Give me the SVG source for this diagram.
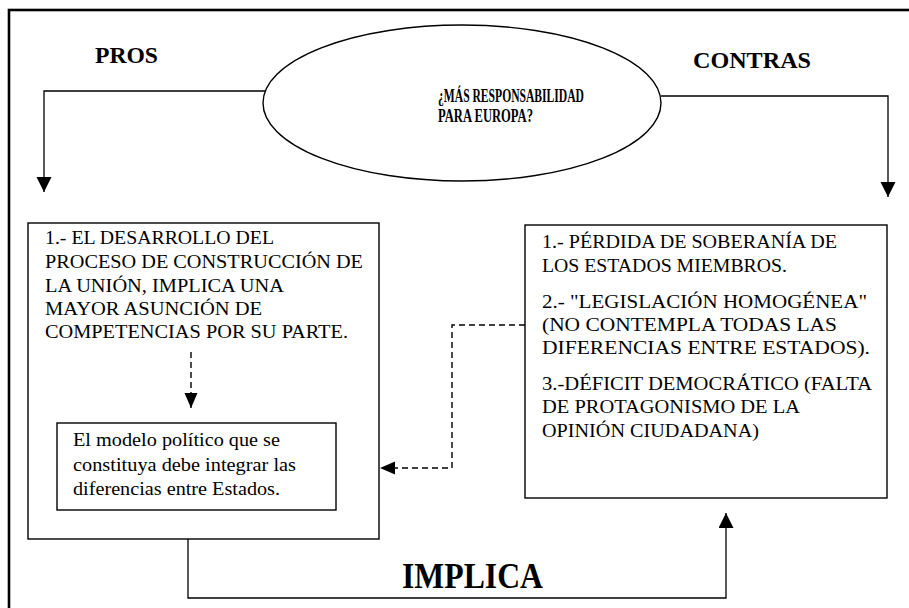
<svg xmlns="http://www.w3.org/2000/svg" width="909" height="608" viewBox="0 0 909 608">
<defs>
<style>
.bx{fill:#fff;stroke:#000;stroke-width:1.4}
.ln{fill:none;stroke:#000;stroke-width:1.3}
.dash{fill:none;stroke:#000;stroke-width:1.4;stroke-dasharray:6 4}
.t{font-family:"Liberation Serif","Times New Roman",serif;font-size:18.5px;fill:#000}
.b{font-family:"Liberation Serif","Times New Roman",serif;font-weight:bold;fill:#000}
</style>
<marker id="ah" markerUnits="userSpaceOnUse" markerWidth="16" markerHeight="16" refX="15" refY="7.5" orient="auto">
<path d="M0,0 L15,7.5 L0,15 z" fill="#000"/>
</marker>
<marker id="ahs" markerUnits="userSpaceOnUse" markerWidth="16" markerHeight="14" refX="15" refY="6.5" orient="auto">
<path d="M0,0 L15,6.5 L0,13 z" fill="#000"/>
</marker>
</defs>
<rect x="9" y="10" width="910" height="610" fill="#fff" stroke="#000" stroke-width="2.6"/>
<g id="pros-label"><text class="b" x="95" y="63" font-size="23" textLength="63" lengthAdjust="spacingAndGlyphs">PROS</text></g>
<g id="contras-label"><text class="b" x="693" y="68" font-size="23" textLength="118" lengthAdjust="spacingAndGlyphs">CONTRAS</text></g>
<g id="question">
<ellipse cx="462" cy="103" rx="199" ry="78" class="bx"/>
<text class="b" x="438" y="102" font-size="18" textLength="146" lengthAdjust="spacingAndGlyphs">¿MÁS RESPONSABILIDAD</text>
<text class="b" x="438" y="122" font-size="18" textLength="95" lengthAdjust="spacingAndGlyphs">PARA EUROPA?</text>
</g>
<g id="pros-box">
<rect x="28" y="223" width="351" height="316" class="bx"/>
<text class="t" x="45" y="244" textLength="229" lengthAdjust="spacingAndGlyphs">1.- EL DESARROLLO DEL</text>
<text class="t" x="45" y="268" textLength="318" lengthAdjust="spacingAndGlyphs">PROCESO DE CONSTRUCCIÓN DE</text>
<text class="t" x="45" y="292" textLength="239" lengthAdjust="spacingAndGlyphs">LA UNIÓN, IMPLICA UNA</text>
<text class="t" x="45" y="315" textLength="217" lengthAdjust="spacingAndGlyphs">MAYOR ASUNCIÓN DE</text>
<text class="t" x="45" y="338" textLength="303" lengthAdjust="spacingAndGlyphs">COMPETENCIAS POR SU PARTE.</text>
</g>
<g id="model-box">
<rect x="57" y="423" width="279" height="87" class="bx"/>
<text class="t" x="73" y="446" textLength="207" lengthAdjust="spacingAndGlyphs">El modelo político que se</text>
<text class="t" x="73" y="471" textLength="223" lengthAdjust="spacingAndGlyphs">constituya debe integrar las</text>
<text class="t" x="73" y="495" textLength="207" lengthAdjust="spacingAndGlyphs">diferencias entre Estados.</text>
</g>
<g id="contras-box">
<rect x="525" y="225" width="362" height="273" class="bx"/>
<text class="t" x="542" y="248" textLength="295" lengthAdjust="spacingAndGlyphs">1.- PÉRDIDA DE SOBERANÍA DE</text>
<text class="t" x="542" y="272" textLength="245" lengthAdjust="spacingAndGlyphs">LOS ESTADOS MIEMBROS.</text>
<text class="t" x="542" y="308" textLength="325" lengthAdjust="spacingAndGlyphs">2.- "LEGISLACIÓN HOMOGÉNEA"</text>
<text class="t" x="542" y="331" textLength="295" lengthAdjust="spacingAndGlyphs">(NO CONTEMPLA TODAS LAS</text>
<text class="t" x="542" y="354" textLength="328" lengthAdjust="spacingAndGlyphs">DIFERENCIAS ENTRE ESTADOS).</text>
<text class="t" x="542" y="390" textLength="330" lengthAdjust="spacingAndGlyphs">3.-DÉFICIT DEMOCRÁTICO (FALTA</text>
<text class="t" x="542" y="413" textLength="258" lengthAdjust="spacingAndGlyphs">DE PROTAGONISMO DE LA</text>
<text class="t" x="542" y="437" textLength="217" lengthAdjust="spacingAndGlyphs">OPINIÓN CIUDADANA)</text>
</g>
<g id="connectors">
<path class="ln" d="M265,91 H44 V192" marker-end="url(#ah)"/>
<path class="ln" d="M661,96 H888 V197" marker-end="url(#ah)"/>
<path class="dash" d="M191,352 V408" marker-end="url(#ahs)"/>
<path class="dash" d="M525,325 H452 V468 H380" marker-end="url(#ahs)"/>
<path class="ln" d="M188,539 V598 H726 V513" marker-end="url(#ah)"/>
<text class="b" x="402" y="588" font-size="35" textLength="141" lengthAdjust="spacingAndGlyphs">IMPLICA</text>
</g>
</svg>
